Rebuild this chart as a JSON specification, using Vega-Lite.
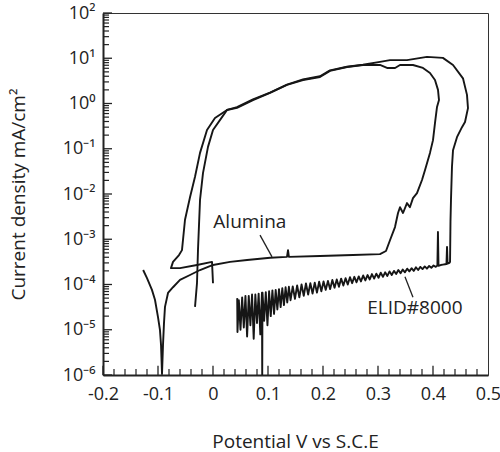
{
  "$schema": "https://vega.github.io/schema/vega-lite/v6.json",
  "width": 385,
  "height": 362,
  "autosize": "none",
  "padding": {"left": 103, "top": 13, "right": 12, "bottom": 77},
  "background": "white",
  "config": {
    "view": {"stroke": "#333", "strokeWidth": 1},
    "axis": {"grid": false, "domainColor": "#222", "domainWidth": 2,
             "labelFont": "Open Sans", "labelFontSize": 18, "labelColor": "#222", "labelFlush": false,
             "titleFont": "Open Sans", "titleFontSize": 19, "titleFontWeight": "normal", "titleColor": "#222"}
  },
  "datasets": {
    "curves": [
      {"s":"A","i":1,"v":-0.127,"c":2.09e-4},{"s":"A","i":2,"v":-0.120,"c":1.38e-4},{"s":"A","i":3,"v":-0.111,"c":7.6e-5},
      {"s":"A","i":4,"v":-0.1055,"c":4.6e-5},{"s":"A","i":5,"v":-0.100,"c":1.9e-5},{"s":"A","i":6,"v":-0.0964,"c":9.8e-6},
      {"s":"A","i":7,"v":-0.0945,"c":4.6e-6},{"s":"A","i":8,"v":-0.0927,"c":1.05e-6},{"s":"A","i":9,"v":-0.0909,"c":4.6e-6},
      {"s":"A","i":10,"v":-0.0891,"c":1.4e-5},{"s":"A","i":11,"v":-0.0873,"c":3.2e-5},{"s":"A","i":12,"v":-0.0818,"c":6.5e-5},
      {"s":"A","i":13,"v":-0.0727,"c":8.7e-5},{"s":"A","i":14,"v":-0.060,"c":1.26e-4},{"s":"A","i":15,"v":-0.0418,"c":1.62e-4},
      {"s":"A","i":16,"v":-0.0236,"c":2.09e-4},{"s":"A","i":17,"v":0.0,"c":2.7e-4},{"s":"A","i":18,"v":0.031,"c":3.16e-4},
      {"s":"A","i":19,"v":0.062,"c":3.47e-4},{"s":"A","i":20,"v":0.104,"c":3.9e-4},{"s":"A","i":21,"v":0.1345,"c":4.07e-4},
      {"s":"A","i":22,"v":0.1364,"c":5.75e-4},{"s":"A","i":23,"v":0.138,"c":4.07e-4},{"s":"A","i":24,"v":0.1945,"c":4.27e-4},
      {"s":"A","i":25,"v":0.2545,"c":4.47e-4},{"s":"A","i":26,"v":0.3036,"c":4.68e-4},{"s":"A","i":27,"v":0.3145,"c":5.5e-4},
      {"s":"A","i":28,"v":0.3218,"c":9.5e-4},{"s":"A","i":29,"v":0.3309,"c":1.86e-3},{"s":"A","i":30,"v":0.3364,"c":3.8e-3},
      {"s":"A","i":31,"v":0.340,"c":5.1e-3},{"s":"A","i":32,"v":0.3455,"c":3.8e-3},{"s":"A","i":33,"v":0.3527,"c":6.3e-3},
      {"s":"A","i":34,"v":0.358,"c":5.1e-3},{"s":"A","i":35,"v":0.3636,"c":8.1e-3},{"s":"A","i":36,"v":0.3709,"c":1.05e-2},
      {"s":"A","i":37,"v":0.380,"c":2.04e-2},{"s":"A","i":38,"v":0.3855,"c":3.4e-2},{"s":"A","i":39,"v":0.3945,"c":8.1e-2},
      {"s":"A","i":40,"v":0.400,"c":0.155},{"s":"A","i":41,"v":0.4036,"c":0.37},{"s":"A","i":42,"v":0.4073,"c":0.84},
      {"s":"A","i":43,"v":0.4109,"c":1.19},{"s":"A","i":44,"v":0.4091,"c":2.0},{"s":"A","i":45,"v":0.4036,"c":3.3},
      {"s":"A","i":46,"v":0.3945,"c":4.72},{"s":"A","i":47,"v":0.3818,"c":6.1},{"s":"A","i":48,"v":0.3636,"c":7.1},
      {"s":"A","i":49,"v":0.340,"c":7.1},{"s":"A","i":50,"v":0.331,"c":6.1},{"s":"A","i":51,"v":0.3164,"c":6.1},
      {"s":"A","i":52,"v":0.3036,"c":7.1},{"s":"A","i":53,"v":0.2727,"c":7.1},{"s":"A","i":54,"v":0.2436,"c":6.4},
      {"s":"A","i":55,"v":0.2127,"c":5.25},{"s":"A","i":56,"v":0.1945,"c":3.85},{"s":"A","i":57,"v":0.1636,"c":3.3},
      {"s":"A","i":58,"v":0.1345,"c":2.57},{"s":"A","i":59,"v":0.1036,"c":1.71},{"s":"A","i":60,"v":0.0727,"c":1.19},
      {"s":"A","i":61,"v":0.0436,"c":0.80},{"s":"A","i":62,"v":0.0255,"c":0.72},{"s":"A","i":63,"v":0.0036,"c":0.48},
      {"s":"A","i":64,"v":-0.0109,"c":0.26},{"s":"A","i":65,"v":-0.0236,"c":0.081},{"s":"A","i":66,"v":-0.0327,"c":0.024},
      {"s":"A","i":67,"v":-0.0418,"c":8.5e-3},{"s":"A","i":68,"v":-0.0509,"c":2.7e-3},{"s":"A","i":69,"v":-0.0564,"c":5.75e-4},
      {"s":"A","i":70,"v":-0.0618,"c":4.47e-4},{"s":"A","i":71,"v":-0.0727,"c":3.16e-4},{"s":"A","i":72,"v":-0.0764,"c":2.3e-4},
      {"s":"A","i":73,"v":-0.060,"c":2.3e-4},{"s":"A","i":74,"v":-0.0291,"c":2.7e-4},{"s":"A","i":75,"v":-0.0018,"c":3.16e-4},
      {"s":"A","i":76,"v":0.0,"c":1.07e-4},

      {"s":"E","i":1,"v":0.044,"c":5.0e-5},{"s":"E","i":2,"v":0.0445,"c":8.9e-6},{"s":"E","i":3,"v":0.047,"c":4.5e-5},
      {"s":"E","i":4,"v":0.050,"c":1.0e-5},{"s":"E","i":5,"v":0.053,"c":5.2e-5},{"s":"E","i":6,"v":0.056,"c":1.12e-5},
      {"s":"E","i":7,"v":0.059,"c":5.6e-5},{"s":"E","i":8,"v":0.062,"c":7.1e-6},{"s":"E","i":9,"v":0.065,"c":5.6e-5},
      {"s":"E","i":10,"v":0.068,"c":1.26e-5},{"s":"E","i":11,"v":0.071,"c":6.0e-5},{"s":"E","i":12,"v":0.074,"c":6.3e-6},
      {"s":"E","i":13,"v":0.077,"c":6.0e-5},{"s":"E","i":14,"v":0.080,"c":1.41e-5},{"s":"E","i":15,"v":0.083,"c":6.3e-5},
      {"s":"E","i":16,"v":0.086,"c":7.9e-6},{"s":"E","i":17,"v":0.089,"c":6.6e-5},{"s":"E","i":18,"v":0.0895,"c":1.0e-6},
      {"s":"E","i":19,"v":0.090,"c":6.6e-5},{"s":"E","i":20,"v":0.093,"c":1.58e-5},{"s":"E","i":21,"v":0.096,"c":6.8e-5},
      {"s":"E","i":22,"v":0.099,"c":1.26e-5},{"s":"E","i":23,"v":0.102,"c":7.1e-5},{"s":"E","i":24,"v":0.105,"c":2.0e-5},
      {"s":"E","i":25,"v":0.108,"c":7.4e-5},{"s":"E","i":26,"v":0.111,"c":2.24e-5},{"s":"E","i":27,"v":0.114,"c":7.6e-5},
      {"s":"E","i":28,"v":0.117,"c":2.8e-5},{"s":"E","i":29,"v":0.120,"c":7.9e-5},{"s":"E","i":30,"v":0.123,"c":3.16e-5},
      {"s":"E","i":31,"v":0.126,"c":8.3e-5},{"s":"E","i":32,"v":0.129,"c":3.5e-5},{"s":"E","i":33,"v":0.132,"c":8.7e-5},
      {"s":"E","i":34,"v":0.135,"c":4.0e-5},{"s":"E","i":35,"v":0.138,"c":8.9e-5},{"s":"E","i":36,"v":0.141,"c":4.5e-5},
      {"s":"E","i":37,"v":0.145,"c":9.1e-5},{"s":"E","i":38,"v":0.149,"c":4.8e-5},{"s":"E","i":39,"v":0.153,"c":9.5e-5},
      {"s":"E","i":40,"v":0.157,"c":5.2e-5},{"s":"E","i":41,"v":0.161,"c":1.0e-4},{"s":"E","i":42,"v":0.165,"c":5.6e-5},
      {"s":"E","i":43,"v":0.169,"c":1.05e-4},{"s":"E","i":44,"v":0.173,"c":6.0e-5},{"s":"E","i":45,"v":0.177,"c":1.07e-4},
      {"s":"E","i":46,"v":0.181,"c":6.3e-5},{"s":"E","i":47,"v":0.185,"c":1.10e-4},{"s":"E","i":48,"v":0.189,"c":6.6e-5},
      {"s":"E","i":49,"v":0.193,"c":1.15e-4},{"s":"E","i":50,"v":0.197,"c":7.1e-5},{"s":"E","i":51,"v":0.201,"c":1.17e-4},
      {"s":"E","i":52,"v":0.205,"c":7.6e-5},{"s":"E","i":53,"v":0.209,"c":1.20e-4},{"s":"E","i":54,"v":0.213,"c":7.9e-5},
      {"s":"E","i":55,"v":0.217,"c":1.26e-4},{"s":"E","i":56,"v":0.221,"c":8.5e-5},{"s":"E","i":57,"v":0.225,"c":1.29e-4},
      {"s":"E","i":58,"v":0.229,"c":8.9e-5},{"s":"E","i":59,"v":0.233,"c":1.35e-4},{"s":"E","i":60,"v":0.237,"c":9.5e-5},
      {"s":"E","i":61,"v":0.241,"c":1.38e-4},{"s":"E","i":62,"v":0.245,"c":1.0e-4},{"s":"E","i":63,"v":0.249,"c":1.45e-4},
      {"s":"E","i":64,"v":0.253,"c":1.07e-4},{"s":"E","i":65,"v":0.257,"c":1.48e-4},{"s":"E","i":66,"v":0.261,"c":1.12e-4},
      {"s":"E","i":67,"v":0.265,"c":1.51e-4},{"s":"E","i":68,"v":0.269,"c":1.17e-4},{"s":"E","i":69,"v":0.273,"c":1.58e-4},
      {"s":"E","i":70,"v":0.277,"c":1.23e-4},{"s":"E","i":71,"v":0.281,"c":1.62e-4},{"s":"E","i":72,"v":0.285,"c":1.29e-4},
      {"s":"E","i":73,"v":0.289,"c":1.70e-4},{"s":"E","i":74,"v":0.293,"c":1.35e-4},{"s":"E","i":75,"v":0.297,"c":1.74e-4},
      {"s":"E","i":76,"v":0.301,"c":1.41e-4},{"s":"E","i":77,"v":0.305,"c":1.82e-4},{"s":"E","i":78,"v":0.309,"c":1.48e-4},
      {"s":"E","i":79,"v":0.313,"c":1.86e-4},{"s":"E","i":80,"v":0.317,"c":1.55e-4},{"s":"E","i":81,"v":0.321,"c":1.95e-4},
      {"s":"E","i":82,"v":0.325,"c":1.62e-4},{"s":"E","i":83,"v":0.329,"c":2.0e-4},{"s":"E","i":84,"v":0.333,"c":1.70e-4},
      {"s":"E","i":85,"v":0.337,"c":2.09e-4},{"s":"E","i":86,"v":0.341,"c":1.78e-4},{"s":"E","i":87,"v":0.345,"c":2.14e-4},
      {"s":"E","i":88,"v":0.349,"c":1.86e-4},{"s":"E","i":89,"v":0.353,"c":2.24e-4},{"s":"E","i":90,"v":0.357,"c":1.95e-4},
      {"s":"E","i":91,"v":0.361,"c":2.29e-4},{"s":"E","i":92,"v":0.365,"c":2.0e-4},{"s":"E","i":93,"v":0.369,"c":2.4e-4},
      {"s":"E","i":94,"v":0.373,"c":2.09e-4},{"s":"E","i":95,"v":0.377,"c":2.45e-4},{"s":"E","i":96,"v":0.381,"c":2.19e-4},
      {"s":"E","i":97,"v":0.385,"c":2.51e-4},{"s":"E","i":98,"v":0.389,"c":2.24e-4},{"s":"E","i":99,"v":0.393,"c":2.57e-4},
      {"s":"E","i":100,"v":0.397,"c":2.34e-4},{"s":"E","i":101,"v":0.401,"c":2.63e-4},{"s":"E","i":102,"v":0.405,"c":2.45e-4},
      {"s":"E","i":103,"v":0.408,"c":2.63e-4},{"s":"E","i":104,"v":0.409,"c":1.45e-3},{"s":"E","i":105,"v":0.410,"c":2.6e-4},
      {"s":"E","i":106,"v":0.414,"c":2.69e-4},{"s":"E","i":107,"v":0.418,"c":2.75e-4},{"s":"E","i":108,"v":0.422,"c":2.8e-4},
      {"s":"E","i":109,"v":0.4245,"c":2.82e-4},{"s":"E","i":110,"v":0.4255,"c":6.8e-4},{"s":"E","i":111,"v":0.4265,"c":2.9e-4},
      {"s":"E","i":112,"v":0.430,"c":3.0e-4},{"s":"E","i":113,"v":0.431,"c":3.16e-4},{"s":"E","i":114,"v":0.4318,"c":2.5e-3},
      {"s":"E","i":115,"v":0.4327,"c":7.4e-3},{"s":"E","i":116,"v":0.4345,"c":0.040},{"s":"E","i":117,"v":0.4364,"c":0.093},
      {"s":"E","i":118,"v":0.4436,"c":0.18},{"s":"E","i":119,"v":0.4527,"c":0.30},{"s":"E","i":120,"v":0.4582,"c":0.39},
      {"s":"E","i":121,"v":0.4636,"c":0.79},{"s":"E","i":122,"v":0.4618,"c":1.55},{"s":"E","i":123,"v":0.4545,"c":3.6},
      {"s":"E","i":124,"v":0.4364,"c":7.1},{"s":"E","i":125,"v":0.418,"c":10.2},{"s":"E","i":126,"v":0.389,"c":10.7},
      {"s":"E","i":127,"v":0.3527,"c":9.1},{"s":"E","i":128,"v":0.3218,"c":9.1},{"s":"E","i":129,"v":0.3036,"c":8.3},
      {"s":"E","i":130,"v":0.2727,"c":7.2},{"s":"E","i":131,"v":0.2436,"c":6.5},{"s":"E","i":132,"v":0.2127,"c":5.4},
      {"s":"E","i":133,"v":0.1945,"c":4.0},{"s":"E","i":134,"v":0.1636,"c":3.4},{"s":"E","i":135,"v":0.1345,"c":2.6},
      {"s":"E","i":136,"v":0.1036,"c":1.74},{"s":"E","i":137,"v":0.0727,"c":1.23},{"s":"E","i":138,"v":0.0436,"c":0.83},
      {"s":"E","i":139,"v":0.0255,"c":0.72},{"s":"E","i":140,"v":0.0164,"c":0.50},{"s":"E","i":141,"v":0.0,"c":0.26},
      {"s":"E","i":142,"v":-0.0091,"c":0.11},{"s":"E","i":143,"v":-0.0182,"c":0.029},{"s":"E","i":144,"v":-0.0236,"c":7.4e-3},
      {"s":"E","i":145,"v":-0.0273,"c":5.75e-4},{"s":"E","i":146,"v":-0.0291,"c":1.07e-4},{"s":"E","i":147,"v":-0.0327,"c":3.2e-5}
    ],
    "labels": [
      {"t":"Alumina","v":0.067,"c":2.4e-3},
      {"t":"ELID#8000","v":0.367,"c":3.0e-5}
    ],
    "leaders": [
      {"v":0.0855,"c":1.23e-3,"v2":0.1073,"c2":4.07e-4},
      {"v":0.349,"c":1.48e-4,"v2":0.3636,"c2":5.2e-5}
    ],
    "xmajor": [{"t":-0.2},{"t":-0.1},{"t":0},{"t":0.1},{"t":0.2},{"t":0.3},{"t":0.4}],
    "xminor": [{"t":-0.18},{"t":-0.16},{"t":-0.14},{"t":-0.12},{"t":-0.08},{"t":-0.06},{"t":-0.04},{"t":-0.02},
               {"t":0.02},{"t":0.04},{"t":0.06},{"t":0.08},{"t":0.12},{"t":0.14},{"t":0.16},{"t":0.18},
               {"t":0.22},{"t":0.24},{"t":0.26},{"t":0.28},{"t":0.32},{"t":0.34},{"t":0.36},{"t":0.38},
               {"t":0.42},{"t":0.44},{"t":0.46},{"t":0.48}],
    "ymajor": [{"t":1e-6},{"t":1e-5},{"t":1e-4},{"t":1e-3},{"t":1e-2},{"t":1e-1},{"t":1},{"t":10},{"t":100}],
    "yminor": [{"t":2e-6},{"t":3e-6},{"t":4e-6},{"t":5e-6},{"t":6e-6},{"t":7e-6},{"t":8e-6},{"t":9e-6},
               {"t":2e-5},{"t":3e-5},{"t":4e-5},{"t":5e-5},{"t":6e-5},{"t":7e-5},{"t":8e-5},{"t":9e-5},
               {"t":2e-4},{"t":3e-4},{"t":4e-4},{"t":5e-4},{"t":6e-4},{"t":7e-4},{"t":8e-4},{"t":9e-4},
               {"t":2e-3},{"t":3e-3},{"t":4e-3},{"t":5e-3},{"t":6e-3},{"t":7e-3},{"t":8e-3},{"t":9e-3},
               {"t":2e-2},{"t":3e-2},{"t":4e-2},{"t":5e-2},{"t":6e-2},{"t":7e-2},{"t":8e-2},{"t":9e-2},
               {"t":0.2},{"t":0.3},{"t":0.4},{"t":0.5},{"t":0.6},{"t":0.7},{"t":0.8},{"t":0.9},
               {"t":2},{"t":3},{"t":4},{"t":5},{"t":6},{"t":7},{"t":8},{"t":9},
               {"t":20},{"t":30},{"t":40},{"t":50},{"t":60},{"t":70},{"t":80},{"t":90}]
  },
  "layer": [
    {
      "data": {"name": "curves"},
      "mark": {"type": "line", "color": "#161616", "strokeWidth": 1.9, "strokeJoin": "round", "clip": true},
      "encoding": {
        "x": {"field": "v", "type": "quantitative",
              "scale": {"domain": [-0.2, 0.5], "nice": false, "zero": false},
              "axis": {"orient": "bottom", "values": [-0.2,-0.1,0,0.1,0.2,0.3,0.4,0.5], "ticks": false,
                       "labelPadding": 10, "labelExpr": "datum.value == 0 ? '0' : (datum.value < 0 ? '-' + format(-datum.value, '.1f') : format(datum.value, '.1f'))",
                       "title": "Potential V vs S.C.E", "titleX": 192, "titleY": 72, "titleBaseline": "alphabetic"}},
        "y": {"field": "c", "type": "quantitative",
              "scale": {"type": "log", "domain": [1e-6, 100], "nice": false},
              "axis": {"orient": "left", "values": [1e-6,1e-5,1e-4,1e-3,1e-2,1e-1,1,10,100], "ticks": false,
                       "labelPadding": 8, "labelBaseline": "middle",
                       "labelExpr": "'10' + ['⁻⁶','⁻⁵','⁻⁴','⁻³','⁻²','⁻¹','⁰','¹','²'][round(log(datum.value)/LN10) + 6]",
                       "title": "Current density mA/cm²", "titleX": -79, "titleY": 181, "titleBaseline": "alphabetic"}},
        "detail": {"field": "s"},
        "order": {"field": "i", "type": "quantitative"}
      }
    },
    {
      "data": {"name": "xmajor"},
      "mark": {"type": "rule", "color": "#222", "strokeWidth": 1.3},
      "encoding": {
        "x": {"field": "t", "type": "quantitative"},
        "y": {"datum": 1e-6, "type": "quantitative"},
        "y2": {"datum": 1.6e-6}
      }
    },
    {
      "data": {"name": "xminor"},
      "mark": {"type": "rule", "color": "#222", "strokeWidth": 1.2},
      "encoding": {
        "x": {"field": "t", "type": "quantitative"},
        "y": {"datum": 1e-6, "type": "quantitative"},
        "y2": {"datum": 1.36e-6}
      }
    },
    {
      "data": {"name": "ymajor"},
      "mark": {"type": "rule", "color": "#222", "strokeWidth": 1.3},
      "encoding": {
        "y": {"field": "t", "type": "quantitative"},
        "x": {"datum": -0.2, "type": "quantitative"},
        "x2": {"datum": -0.1836}
      }
    },
    {
      "data": {"name": "yminor"},
      "mark": {"type": "rule", "color": "#222", "strokeWidth": 1.2},
      "encoding": {
        "y": {"field": "t", "type": "quantitative"},
        "x": {"datum": -0.2, "type": "quantitative"},
        "x2": {"datum": -0.1891}
      }
    },
    {
      "data": {"name": "leaders"},
      "mark": {"type": "rule", "color": "#222", "strokeWidth": 1.3},
      "encoding": {
        "x": {"field": "v", "type": "quantitative"},
        "y": {"field": "c", "type": "quantitative"},
        "x2": {"field": "v2"},
        "y2": {"field": "c2"}
      }
    },
    {
      "data": {"name": "labels"},
      "mark": {"type": "text", "font": "Open Sans", "fontSize": 19, "color": "#222", "align": "center", "baseline": "middle"},
      "encoding": {
        "x": {"field": "v", "type": "quantitative"},
        "y": {"field": "c", "type": "quantitative"},
        "text": {"field": "t"}
      }
    }
  ]
}
